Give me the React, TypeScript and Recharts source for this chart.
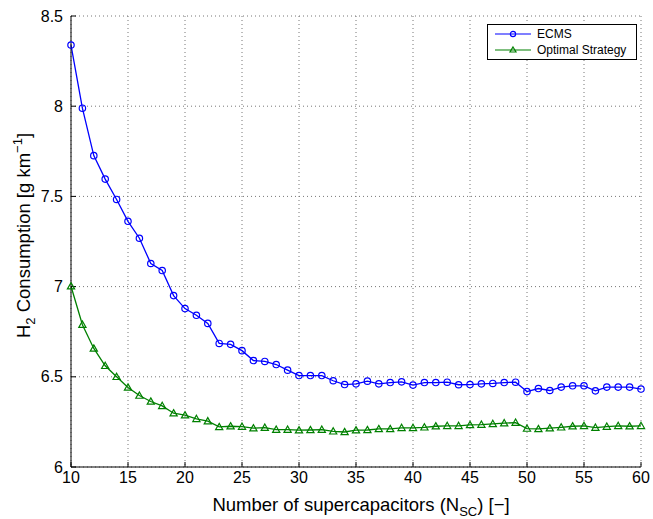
import {
  CartesianGrid,
  Line,
  LineChart,
  XAxis,
  YAxis,
} from "recharts";

const N_SC = [
  10, 11, 12, 13, 14, 15, 16, 17, 18, 19, 20, 21, 22, 23, 24, 25, 26, 27, 28, 29, 30,
  31, 32, 33, 34, 35, 36, 37, 38, 39, 40, 41, 42, 43, 44, 45, 46, 47, 48, 49, 50,
  51, 52, 53, 54, 55, 56, 57, 58, 59, 60,
];

const ECMS = [
  8.339, 7.989, 7.726, 7.596, 7.483, 7.362, 7.268, 7.128, 7.089, 6.95, 6.878, 6.841,
  6.796, 6.685, 6.68, 6.645, 6.59, 6.585, 6.568, 6.537, 6.507, 6.507, 6.507, 6.478,
  6.457, 6.461, 6.476, 6.461, 6.468, 6.472, 6.454, 6.468, 6.468, 6.47, 6.456, 6.457,
  6.461, 6.463, 6.468, 6.47, 6.418, 6.435, 6.424, 6.443, 6.45, 6.45, 6.422, 6.443,
  6.443, 6.443, 6.432,
];

const OPTIMAL = [
  7.002, 6.789, 6.657, 6.561, 6.5, 6.441, 6.396, 6.363, 6.339, 6.298, 6.287, 6.267,
  6.254, 6.222, 6.226, 6.224, 6.215, 6.218, 6.207, 6.207, 6.204, 6.205, 6.207, 6.198,
  6.194, 6.204, 6.205, 6.211, 6.211, 6.217, 6.217, 6.22, 6.226, 6.228, 6.228, 6.233,
  6.235, 6.239, 6.243, 6.246, 6.213, 6.211, 6.215, 6.22, 6.226, 6.228, 6.218, 6.224,
  6.228, 6.226, 6.228,
];

const X_TICKS = [10, 15, 20, 25, 30, 35, 40, 45, 50, 55, 60];
const Y_TICKS = [6, 6.5, 7, 7.5, 8, 8.5];

const data = N_SC.map((n, i) => ({ n, ecms: ECMS[i], opt: OPTIMAL[i] }));

const FONT = "'Liberation Sans', Arial, Helvetica, sans-serif";
const BLUE = "#0000ff";
const GREEN = "#008000";

function Triangle(props: any) {
  const { cx, cy, index } = props;
  if (cx == null || cy == null) return <g key={index} />;
  const s = 3.6;
  return (
    <path
      key={index}
      d={`M${cx},${cy - s} L${cx + s},${cy + s * 0.75} L${cx - s},${cy + s * 0.75} Z`}
      fill="none"
      stroke={GREEN}
      strokeWidth={1.2}
    />
  );
}

function YLabel(props: any) {
  const vb = props.viewBox || { x: 0, y: 0, width: 0, height: 0 };
  const cx = 30;
  const cy = vb.y + vb.height / 2 - 6;
  return (
    <text
      transform={`translate(${cx},${cy}) rotate(-90)`}
      textAnchor="middle"
      fontSize={18.5}
      fontFamily={FONT}
      fill="#000"
    >
      H<tspan dy={5} fontSize={13}>2</tspan>
      <tspan dy={-5}> Consumption [g km</tspan>
      <tspan dy={-8} fontSize={13}>−1</tspan>
      <tspan dy={8}>]</tspan>
    </text>
  );
}

function XLabel(props: any) {
  const vb = props.viewBox || { x: 0, y: 0, width: 0, height: 0 };
  const cx = vb.x + vb.width / 2 + 5;
  return (
    <text x={cx} y={vb.y + 44} textAnchor="middle" fontSize={18.5} fontFamily={FONT} fill="#000">
      Number of supercapacitors (N<tspan dy={5} fontSize={13}>SC</tspan>
      <tspan dy={-5}>) [−]</tspan>
    </text>
  );
}

function LegendBox() {
  const row = (label: string, color: string, marker: "o" | "t") => (
    <div style={{ display: "flex", alignItems: "center", height: 16 }}>
      <svg width={40} height={12} style={{ marginRight: 4 }}>
        <line x1={2} y1={6} x2={38} y2={6} stroke={color} strokeWidth={1.2} />
        {marker === "o" ? (
          <circle cx={20} cy={6} r={2.6} fill="none" stroke={color} strokeWidth={1.2} />
        ) : (
          <path d="M20,3 L23,8 L17,8 Z" fill="none" stroke={color} strokeWidth={1.2} />
        )}
      </svg>
      <span>{label}</span>
    </div>
  );
  return (
    <div
      style={{
        position: "absolute",
        left: 487,
        top: 24,
        border: "1px solid #000",
        background: "#fff",
        width: 150,
        height: 36,
        boxSizing: "border-box",
        padding: "1px 0 0 5px",
        fontFamily: FONT,
        fontSize: 12,
        color: "#000",
      }}
    >
      {row("ECMS", BLUE, "o")}
      {row("Optimal Strategy", GREEN, "t")}
    </div>
  );
}

export default function App() {
  return (
    <div style={{ position: "absolute", left: 0, top: 0, width: 653, height: 519, background: "#fff" }}>
      <LineChart
        width={653}
        height={519}
        data={data}
        margin={{ top: 16, right: 12, bottom: 0, left: 0 }}
      >
        <CartesianGrid
          stroke="#777"
          strokeDasharray="1 3"
          strokeWidth={1}
          horizontalValues={Y_TICKS}
          verticalValues={X_TICKS}
        />
        <XAxis
          dataKey="n"
          type="number"
          domain={[10, 60]}
          ticks={X_TICKS}
          height={52}
          tickSize={-5}
          tickMargin={10}
          stroke="#000"
          tick={{ fontSize: 16, fill: "#000", fontFamily: FONT }}
          label={<XLabel />}
        />
        <XAxis
          xAxisId="top"
          dataKey="n"
          type="number"
          orientation="top"
          domain={[10, 60]}
          ticks={X_TICKS}
          height={0}
          tickSize={-5}
          stroke="#000"
          tick={() => <g />}
        />
        <YAxis
          type="number"
          domain={[6, 8.5]}
          ticks={Y_TICKS}
          width={71}
          tickSize={-5}
          tickMargin={13}
          stroke="#000"
          tick={{ fontSize: 16, fill: "#000", fontFamily: FONT }}
          label={<YLabel />}
        />
        <YAxis
          yAxisId="right"
          type="number"
          orientation="right"
          domain={[6, 8.5]}
          ticks={Y_TICKS}
          width={0}
          tickSize={-5}
          stroke="#000"
          tick={() => <g />}
        />
        <Line
          dataKey="ecms"
          name="ECMS"
          stroke={BLUE}
          strokeWidth={1.3}
          dot={{ r: 3.2, fill: "none", stroke: BLUE, strokeWidth: 1.2 }}
          isAnimationActive={false}
        />
        <Line
          dataKey="opt"
          name="Optimal Strategy"
          stroke={GREEN}
          strokeWidth={1.3}
          dot={(p: any) => <Triangle {...p} key={p.index} />}
          isAnimationActive={false}
        />
      </LineChart>
      <LegendBox />
    </div>
  );
}
